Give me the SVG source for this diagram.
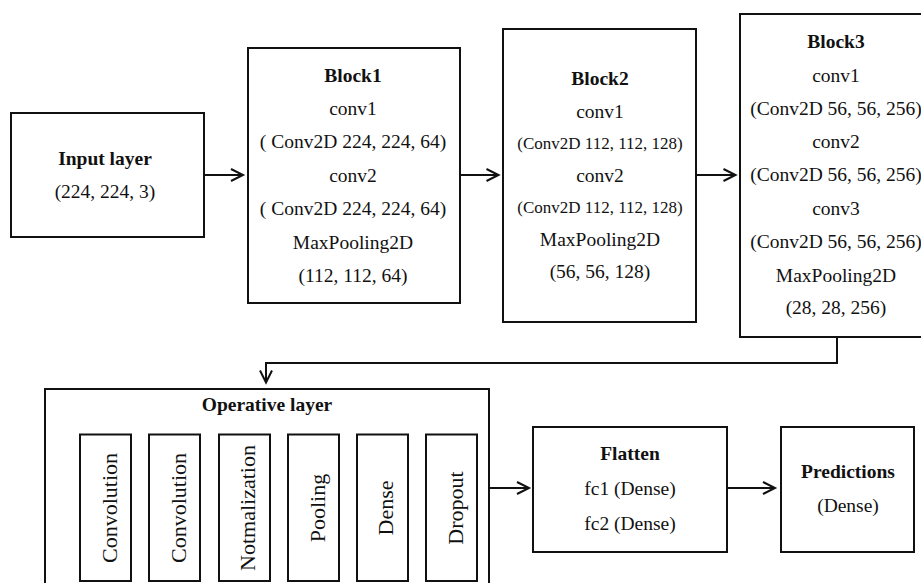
<svg xmlns="http://www.w3.org/2000/svg" width="921" height="583" viewBox="0 0 921 583">
<style>
.box{fill:#fff;stroke:#111;stroke-width:2}
.t{font-family:"Liberation Serif","Times New Roman",serif;font-size:19.5px;fill:#111;text-anchor:middle}
.b{font-weight:bold}
.s{font-size:17px}
.r{font-size:22px}
.c{fill:none;stroke:#111;stroke-width:2}
</style>
<defs>
<marker id="arr" markerUnits="userSpaceOnUse" markerWidth="16" markerHeight="16" refX="13" refY="7" orient="auto">
<path d="M1,1 L13,7 L1,13" fill="none" stroke="#111" stroke-width="2"/>
</marker>
</defs>
<rect width="921" height="583" fill="#fff"/>
<g id="connectors">
<path class="c" d="M204,175 H243" marker-end="url(#arr)"/>
<path class="c" d="M460,175 H498.5" marker-end="url(#arr)"/>
<path class="c" d="M696,175 H735.5" marker-end="url(#arr)"/>
<path class="c" d="M837,337 V363 H266 V382.5" marker-end="url(#arr)"/>
<path class="c" d="M489,488 H529" marker-end="url(#arr)"/>
<path class="c" d="M727,488 H775" marker-end="url(#arr)"/>
</g>
<g id="input">
<rect class="box" x="11" y="113" width="193" height="124"/>
<text class="t b" x="105" y="165">Input layer</text>
<text class="t" x="105" y="197.5">(224, 224, 3)</text>
</g>
<g id="block1">
<rect class="box" x="248" y="48" width="212" height="255"/>
<text class="t b" x="353" y="81.5">Block1</text>
<text class="t" x="353" y="115">conv1</text>
<text class="t" x="353" y="148">( Conv2D 224, 224, 64)</text>
<text class="t" x="353" y="181.5">conv2</text>
<text class="t" x="353" y="215">( Conv2D 224, 224, 64)</text>
<text class="t" x="353" y="248.5">MaxPooling2D</text>
<text class="t" x="353" y="282">(112, 112, 64)</text>
</g>
<g id="block2">
<rect class="box" x="503" y="29" width="193" height="293"/>
<text class="t b" x="600" y="85">Block2</text>
<text class="t" x="600" y="118">conv1</text>
<text class="t s" x="600" y="149">(Conv2D 112, 112, 128)</text>
<text class="t" x="600" y="181.5">conv2</text>
<text class="t s" x="600" y="212.5">(Conv2D 112, 112, 128)</text>
<text class="t" x="600" y="245.5">MaxPooling2D</text>
<text class="t" x="600" y="277.5">(56, 56, 128)</text>
</g>
<g id="block3">
<rect class="box" x="740" y="14" width="190" height="323"/>
<text class="t b" x="836" y="47.5">Block3</text>
<text class="t" x="836" y="81.5">conv1</text>
<text class="t" x="836" y="114.5">(Conv2D 56, 56, 256)</text>
<text class="t" x="836" y="148">conv2</text>
<text class="t" x="836" y="181">(Conv2D 56, 56, 256)</text>
<text class="t" x="836" y="214.5">conv3</text>
<text class="t" x="836" y="247.5">(Conv2D 56, 56, 256)</text>
<text class="t" x="836" y="281.5">MaxPooling2D</text>
<text class="t" x="836" y="314">(28, 28, 256)</text>
</g>
<g id="operative">
<rect class="box" x="45" y="389" width="444" height="210"/>
<text class="t b" x="267" y="411">Operative layer</text>
</g>
<g id="op-convolution1">
<rect class="box" x="80" y="434.5" width="51" height="146.5"/>
<text class="t r" transform="translate(116.5,508) rotate(-90)">Convolution</text>
</g>
<g id="op-convolution2">
<rect class="box" x="149" y="434.5" width="51" height="146.5"/>
<text class="t r" transform="translate(185.5,508) rotate(-90)">Convolution</text>
</g>
<g id="op-normalization">
<rect class="box" x="219" y="434.5" width="51" height="146.5"/>
<text class="t r" transform="translate(255,508) rotate(-90)">Notmalization</text>
</g>
<g id="op-pooling">
<rect class="box" x="288" y="434.5" width="51" height="146.5"/>
<text class="t r" transform="translate(324.5,508) rotate(-90)">Pooling</text>
</g>
<g id="op-dense">
<rect class="box" x="357" y="434.5" width="51" height="146.5"/>
<text class="t r" transform="translate(393,508) rotate(-90)">Dense</text>
</g>
<g id="op-dropout">
<rect class="box" x="426" y="434.5" width="51" height="146.5"/>
<text class="t r" transform="translate(463,508) rotate(-90)">Dropout</text>
</g>
<g id="flatten">
<rect class="box" x="533" y="427" width="194" height="125"/>
<text class="t b" x="630" y="460">Flatten</text>
<text class="t" x="630" y="495">fc1 (Dense)</text>
<text class="t" x="630" y="530">fc2 (Dense)</text>
</g>
<g id="predictions">
<rect class="box" x="781" y="427" width="133" height="125"/>
<text class="t b" x="848" y="477.5">Predictions</text>
<text class="t" x="848" y="512">(Dense)</text>
</g>
</svg>
